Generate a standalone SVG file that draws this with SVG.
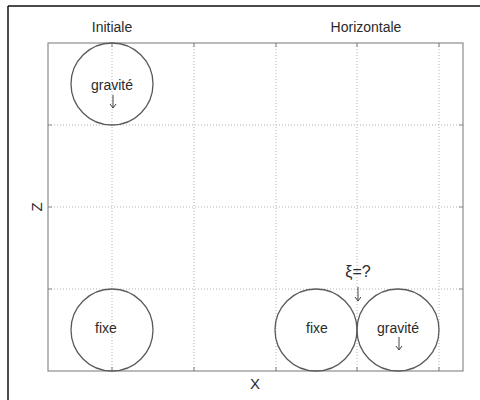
<svg xmlns="http://www.w3.org/2000/svg" width="480" height="400" viewBox="0 0 480 400">
<style>
.t{font-family:"Liberation Sans",Arial,sans-serif;fill:#2a2a2a;text-anchor:middle}
.grid{stroke:#b4b4b4;stroke-width:1;stroke-dasharray:1 2;fill:none}
.axis{stroke:#8c8c8c;stroke-width:1.2;fill:none}
.ball{stroke:#5a5a5a;stroke-width:1.3;fill:none}
.frame{stroke:#111;stroke-width:1.5}
.arr{stroke:#444;stroke-width:1;fill:none}
</style>
<rect width="480" height="400" fill="#fff"/>
<line class="frame" x1="8" y1="6" x2="480" y2="6"/>
<line class="frame" x1="8" y1="6" x2="8" y2="400"/>
<g id="grid">
<line class="grid" x1="112" y1="43" x2="112" y2="371"/>
<line class="grid" x1="194" y1="43" x2="194" y2="371"/>
<line class="grid" x1="276" y1="43" x2="276" y2="371"/>
<line class="grid" x1="357" y1="43" x2="357" y2="371"/>
<line class="grid" x1="439" y1="43" x2="439" y2="371"/>
<line class="grid" x1="48" y1="125" x2="463" y2="125"/>
<line class="grid" x1="48" y1="207" x2="463" y2="207"/>
<line class="grid" x1="48" y1="289" x2="463" y2="289"/>
</g>
<g id="axes">
<rect class="axis" x="48" y="43" width="415" height="328"/>
<path class="axis" d="M112 43v4M194 43v4M276 43v4M357 43v4M439 43v4M112 371v-4M194 371v-4M276 371v-4M357 371v-4M439 371v-4M48 125h4M48 207h4M48 289h4M463 125h-4M463 207h-4M463 289h-4"/>
<text class="t" x="112" y="32" font-size="14">Initiale</text>
<text class="t" x="366" y="32" font-size="14">Horizontale</text>
<text class="t" x="255" y="389" font-size="15">X</text>
<text class="t" x="0" y="0" font-size="15" transform="translate(42,207) rotate(-90)">Z</text>
</g>
<g id="ball-initial-gravite">
<circle class="ball" cx="112" cy="84" r="41"/>
<text class="t" x="112" y="90" font-size="14">gravité</text>
<path class="arr" d="M113 95v13M110 104l3 4l3-4"/>
</g>
<g id="ball-initial-fixe">
<circle class="ball" cx="112" cy="330" r="41"/>
<text class="t" x="106" y="333" font-size="14">fixe</text>
</g>
<g id="ball-horiz-fixe">
<circle class="ball" cx="316" cy="330" r="41"/>
<text class="t" x="317" y="333" font-size="14">fixe</text>
</g>
<g id="ball-horiz-gravite">
<circle class="ball" cx="398" cy="330" r="41"/>
<text class="t" x="398" y="333" font-size="14">gravité</text>
<path class="arr" d="M399 337v13M396 346l3 4l3-4"/>
</g>
<g id="contact">
<text class="t" x="358" y="277" font-size="16">ξ=?</text>
<path class="arr" d="M358 287v14M355 297l3 4l3-4"/>
</g>
<g id="connectors"></g>
</svg>
